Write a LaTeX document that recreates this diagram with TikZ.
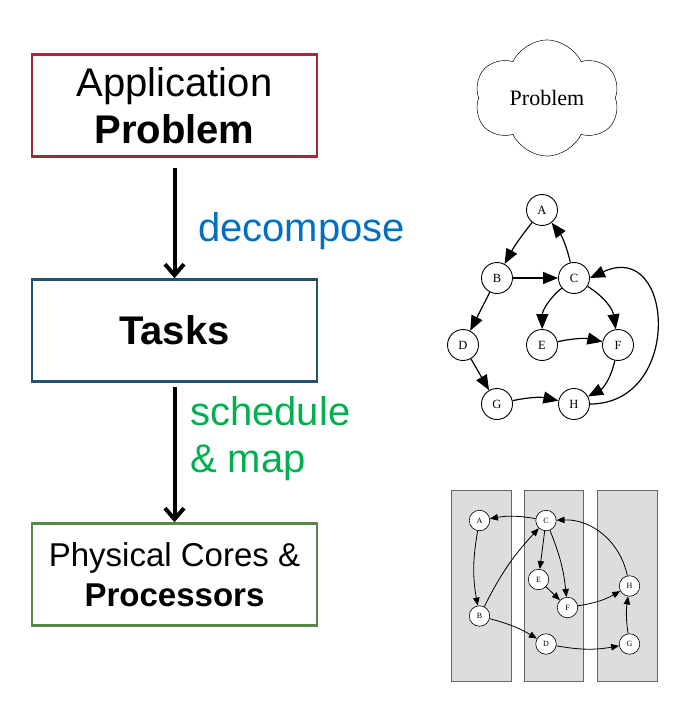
\documentclass[tikz,border=0pt]{standalone}
\usepackage{fontspec}
\setmainfont{Liberation Sans}
\newfontfamily\graphfont{Liberation Serif}
\usetikzlibrary{arrows.meta,shapes.symbols}

\definecolor{probred}{RGB}{160,42,58}
\definecolor{taskblue}{RGB}{32,82,112}
\definecolor{coregreen}{RGB}{84,138,70}
\definecolor{decblue}{RGB}{0,112,192}
\definecolor{mapgreen}{RGB}{0,176,80}
\definecolor{panelgray}{RGB}{221,221,221}

\tikzset{
  stagebox/.style={draw, line width=2.5pt, minimum width=285pt, minimum height=102pt,
    align=center, inner sep=0pt},
  stagearrow/.style={line width=4pt, -{Straight Barb[length=11pt,width=19pt,line width=4pt]}},
  steplabel/.style={anchor=west, align=left, inner sep=0pt,
    font=\fontsize{40}{47}\selectfont},
  tasknode/.style={draw, circle, minimum size=31pt, inner sep=0pt, line width=0.9pt,
    font=\graphfont\fontsize{12.5}{12}\selectfont},
  taskedge/.style={line width=1.2pt, -{Triangle[length=15pt,width=12pt]}},
  corenode/.style={draw, circle, fill=white, minimum size=20.5pt, inner sep=0pt, line width=0.6pt,
    font=\graphfont\fontsize{8}{8}\selectfont},
  coreedge/.style={line width=0.8pt, -{Triangle[length=8pt,width=6.5pt]}},
}

\begin{document}
\begin{tikzpicture}[x=1pt, y=-1pt]
 \useasboundingbox (0,0) rectangle (692,703);

 %level 1
 \node[stagebox, draw=probred, font=\fontsize{40}{47}\selectfont] (prob) at (174.5,105.5)
   {Application\\\textbf{Problem}};
 \node[stagebox, draw=taskblue, font=\fontsize{40}{47}\selectfont] (tasks) at (174.5,330.5)
   {\textbf{Tasks}};
 \node[stagebox, draw=coregreen, font=\fontsize{33}{40}\selectfont] (cores) at (174.5,574.5)
   {Physical Cores \&\\\textbf{Processors}};

 %arrow
 \draw[stagearrow, shorten <=10pt] (prob) -- (tasks);
 \draw[stagearrow, shorten <=4pt] (tasks) -- (cores);

 \node[steplabel, text=decblue] (decomp) at (198,231) {decompose};
 \node[steplabel, text=mapgreen] (sched) at (190,439) {schedule\\\& map};

 %problem cloud
 \node[cloud, draw, cloud puffs=6, cloud puff arc=130, aspect=1.25, line width=0.5pt,
   minimum width=145pt, minimum height=116pt,
   font=\graphfont\fontsize{22}{22}\selectfont] (cloud) at (547,98) {Problem};

 %task graph
 \foreach \name/\x/\y in {A/542/210, B/497/278, C/574/278, D/463/345,
                          E/542/345, F/618/345, G/497/404, H/574/404} {
   \node[tasknode] (t\name) at (\x,\y) {\name};
 }
 \draw[taskedge] (tA) to[bend right=5] (tB);
 \draw[taskedge] (tC) to[bend right=12] (tA);
 \draw[taskedge] (tB) -- (tC);
 \draw[taskedge] (tB) -- (tD);
 \draw[taskedge] (tC) to[bend right=25] (tE);
 \draw[taskedge] (tC) to[bend left=25] (tF);
 \draw[taskedge] (tE) to[bend left=12] (tF);
 \draw[taskedge] (tD) -- (tG);
 \draw[taskedge] (tG) to[bend left=12] (tH);
 \draw[taskedge] (tF) to[bend left=25] (tH);
 \draw[taskedge] (tH.east) to[out=0, in=25, looseness=1.9] (tC.east);

 %cores
 \foreach \i/\x in {1/451.7, 2/524.3, 3/597.7} {
   \draw[fill=panelgray, draw=black!60, line width=0.8pt] (\x,490) rectangle (\x+59.5,681.5);
 }
 \foreach \name/\x/\y in {A/479.5/520.5, C/546/520.5, E/538.5/579.5, F/567.5/607.5,
                          H/629.5/586, B/479.5/616, D/546/644, G/629.5/644} {
   \node[corenode] (c\name) at (\x,\y) {\name};
 }
 \draw[coreedge] (cC) to[bend right=10] (cA);
 \draw[coreedge] (cA) to[bend right=10] (cB);
 \draw[coreedge] (cB) to[bend left=8] (cC);
 \draw[coreedge] (cC) -- (cE);
 \draw[coreedge] (cC) to[bend left=8] (cF);
 \draw[coreedge] (cE) -- (cF);
 \draw[coreedge] (cF) to[bend right=10] (cH);
 \draw[coreedge] (cH) to[bend right=40] (cC);
 \draw[coreedge] (cB) to[bend left=8] (cD);
 \draw[coreedge] (cD) to[bend right=10] (cG);
 \draw[coreedge] (cG) to[bend left=8] (cH);
\end{tikzpicture}
\end{document}
